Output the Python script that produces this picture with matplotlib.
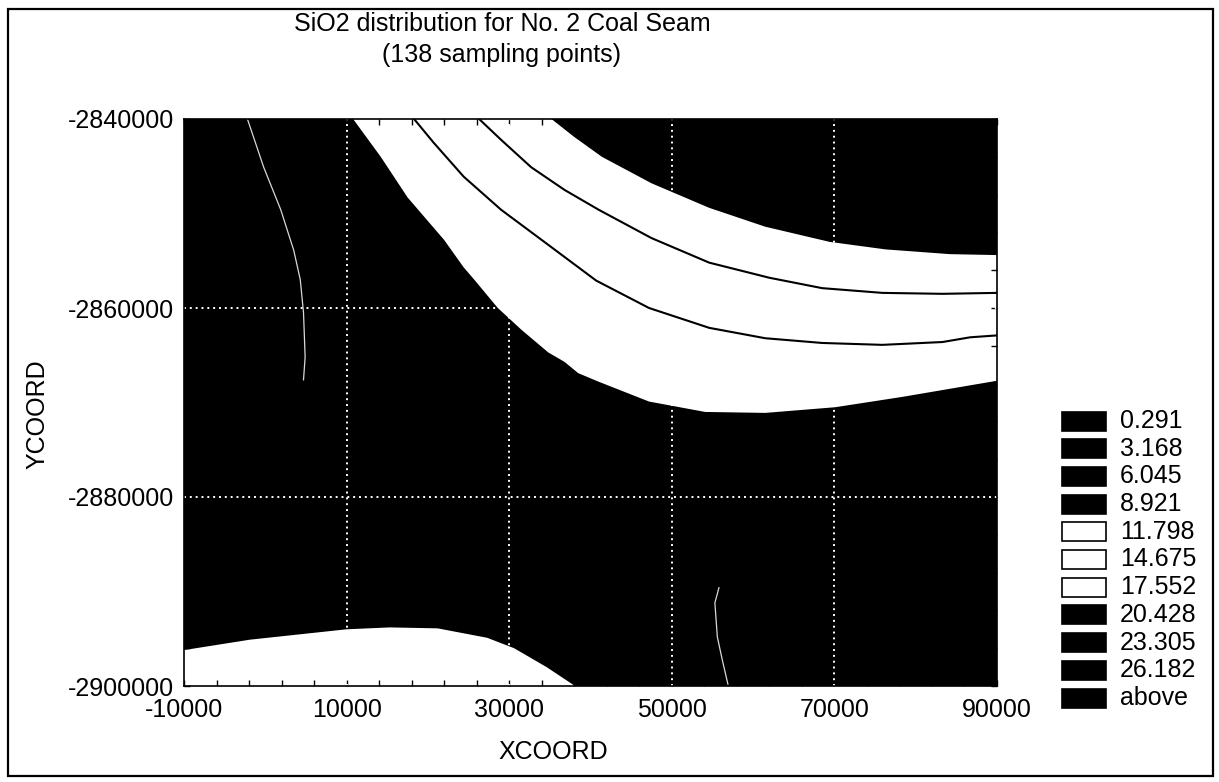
import numpy as np
import matplotlib
matplotlib.use("Agg")
import matplotlib.pyplot as plt
from matplotlib.patches import Rectangle
from matplotlib.ticker import FixedLocator

plt.rcParams['font.family'] = ['Liberation Sans', 'DejaVu Sans']

# ---------------- data ----------------
title_line1 = "SiO2 distribution for No. 2 Coal Seam"
title_line2 = "(138 sampling points)"
x_label = "XCOORD"
y_label = "YCOORD"
x_ticks = [-10000, 10000, 30000, 50000, 70000, 90000]
y_ticks = [-2900000, -2880000, -2860000, -2840000]
x_range = (-10000, 90000)
y_range = (-2900000, -2840000)

levels = ["0.291", "3.168", "6.045", "8.921", "11.798", "14.675",
          "17.552", "20.428", "23.305", "26.182", "above"]
level_colors = ["black", "black", "black", "black", "white", "white",
                "white", "black", "black", "black", "black"]

# lower-left edge of the upper white band
edge_low_x = [10800, 14200, 17500, 22000, 24400, 25700, 28600, 31500, 34800,
              36800, 38500, 41000, 47200, 54100, 61500, 70100, 78400, 90000]
edge_low_y = [-2840000, -2844000, -2848300, -2852800, -2855700, -2857000,
              -2860000, -2862300, -2864700, -2865700, -2866900, -2867800,
              -2869900, -2871000, -2871100, -2870500, -2869400, -2867700]

# first inner contour line
line1_x = [18300, 20700, 24400, 29000, 34000, 40700, 47200, 54600, 61500,
           68500, 75900, 83300, 86700, 90000]
line1_y = [-2840000, -2842500, -2846100, -2849600, -2852800, -2857100,
           -2860000, -2862100, -2863200, -2863700, -2863900, -2863600,
           -2863100, -2862900]

# second inner contour line
line2_x = [26300, 29000, 32700, 36800, 41000, 47500, 54600, 62000, 68500,
           75900, 83300, 90000]
line2_y = [-2840000, -2842200, -2845100, -2847500, -2849600, -2852600,
           -2855200, -2856800, -2857900, -2858400, -2858500, -2858400]

# upper-right edge of the upper white band
edge_high_x = [35200, 38000, 41400, 47500, 54600, 61500, 69400, 76300,
               84200, 90000]
edge_high_y = [-2840000, -2841900, -2844000, -2846800, -2849400, -2851400,
               -2853000, -2853800, -2854300, -2854400]

# edge of the white patch at the bottom left
patch_x = [-10000, -1900, 10000, 15300, 21200, 27300, 30600, 34600, 38100]
patch_y = [-2896200, -2895100, -2894000, -2893800, -2893900, -2894900,
           -2896000, -2898000, -2900000]

# faint traces of contours inside the dark area
trace1_x = [-2200, -200, 1900, 3500, 4300, 4700, 4900, 4700]
trace1_y = [-2840000, -2845100, -2849600, -2853900, -2857000, -2860500,
            -2865200, -2867600]
trace2_x = [55800, 55300, 55600, 56200, 56900]
trace2_y = [-2889600, -2891200, -2894800, -2897200, -2899800]

# ---------------- figure ----------------
W, H = 1219, 782
fig = plt.figure(figsize=(W / 100, H / 100), dpi=100)
fig.patch.set_facecolor("white")

ax = fig.add_axes([184 / W, 1 - 686 / H, (997 - 184) / W, (686 - 119) / H])
ax.set_facecolor("black")

# upper white band
band_x = np.concatenate([edge_low_x, edge_high_x[::-1]])
band_y = np.concatenate([edge_low_y, edge_high_y[::-1]])
ax.fill(band_x, band_y, color="white", lw=0, zorder=1)

# bottom white patch
px = np.concatenate([patch_x, [x_range[0]]])
py = np.concatenate([patch_y, [y_range[0]]])
ax.fill(px, py, color="white", lw=0, zorder=1)

# contour lines inside the band
ax.plot(line1_x, line1_y, color="black", lw=1.5, zorder=3)
ax.plot(line2_x, line2_y, color="black", lw=1.5, zorder=3)

# faint traces
ax.plot(trace1_x, trace1_y, color="white", lw=0.9, alpha=0.85, zorder=2)
ax.plot(trace2_x, trace2_y, color="white", lw=0.9, alpha=0.85, zorder=2)

# grid
for gx in x_ticks[1:-1]:
    ax.axvline(gx, color="white", lw=1.4, ls=(0, (1, 2)), zorder=2)
for gy in y_ticks[1:-1]:
    ax.axhline(gy, color="white", lw=1.4, ls=(0, (1, 2)), zorder=2)

ax.set_xlim(*x_range)
ax.set_ylim(*y_range)
ax.set_xticks(x_ticks)
ax.set_xticklabels([str(v) for v in x_ticks])
ax.set_yticks(y_ticks)
ax.set_yticklabels([str(v) for v in y_ticks])
ax.xaxis.set_minor_locator(FixedLocator(np.arange(x_range[0], x_range[1] + 1, 4000)))
ax.yaxis.set_minor_locator(FixedLocator(np.arange(y_range[0], y_range[1] + 1, 4000)))
ax.tick_params(which="both", direction="in", length=4, width=1,
               top=True, right=True, labelsize=18, color="black")
ax.tick_params(axis="x", pad=8.5)
ax.tick_params(axis="y", pad=7)
for s in ax.spines.values():
    s.set_linewidth(1.2)
    s.set_color("black")

# labels
fig.text(553 / W, 1 - 752 / H, x_label, ha="center", va="center", fontsize=18)
fig.text(37 / W, 1 - 414 / H, y_label, ha="center", va="center",
         fontsize=18, rotation=90)
fig.text(502 / W, 1 - 24 / H, title_line1, ha="center", va="center", fontsize=18)
fig.text(502 / W, 1 - 55 / H, title_line2, ha="center", va="center", fontsize=18)

# legend
for i, (lab, col) in enumerate(zip(levels, level_colors)):
    yc = 421 + 27.7 * i
    fig.patches.append(Rectangle((1062 / W, 1 - (yc + 9.5) / H), 44 / W, 19 / H,
                                 transform=fig.transFigure, facecolor=col,
                                 edgecolor="black", lw=1.2))
    fig.text(1120 / W, 1 - yc / H, lab, ha="left", va="center", fontsize=18)

# outer frame
fig.patches.append(Rectangle((8 / W, 1 - 776 / H), (1213 - 8) / W, (776 - 9) / H,
                             transform=fig.transFigure, fill=False,
                             edgecolor="black", lw=1.6))

fig.savefig("out.png", dpi=100)
